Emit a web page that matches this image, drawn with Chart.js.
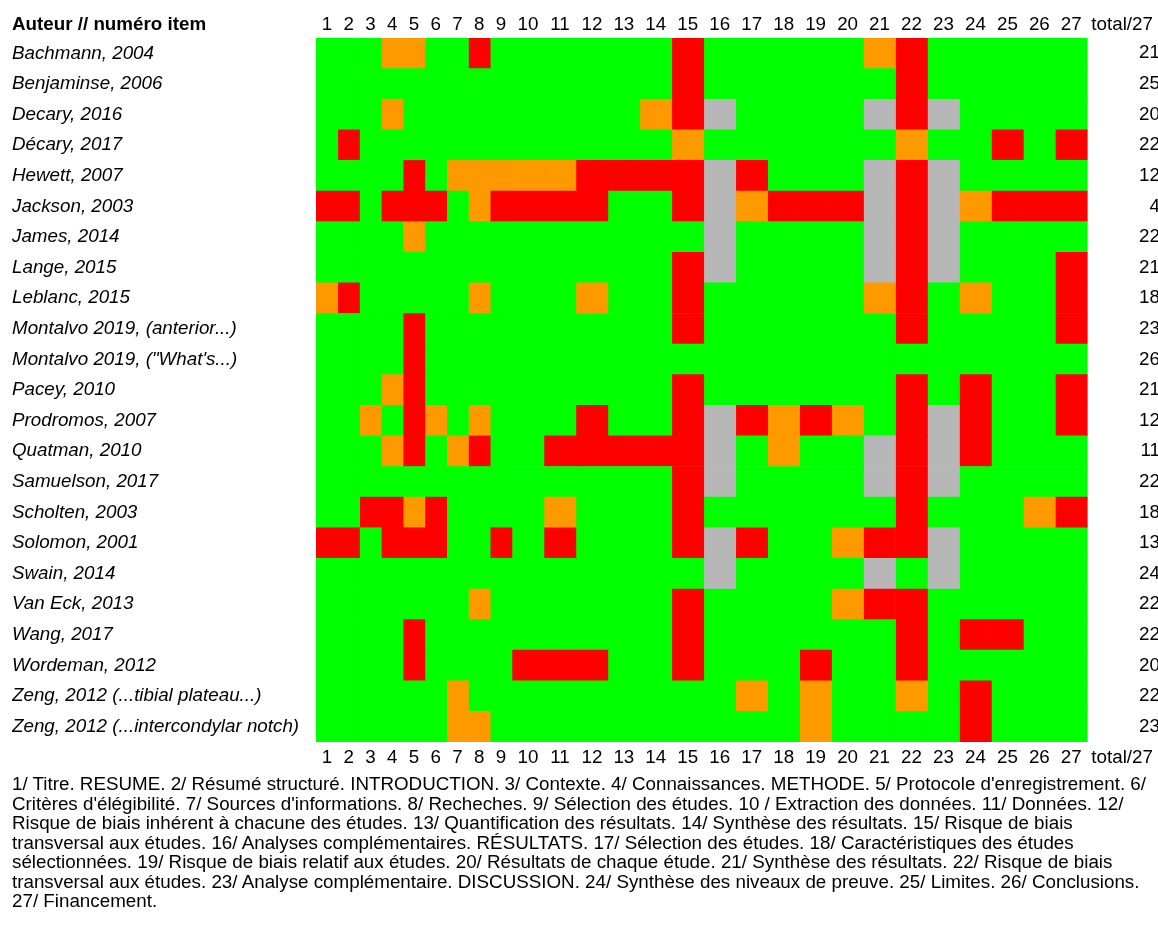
<!DOCTYPE html>
<html lang="fr">
<head>
<meta charset="utf-8">
<title>Grille d'évaluation par item</title>
<script src="https://cdn.jsdelivr.net/npm/chart.js@4.4.1/dist/chart.umd.min.js"></script>
<style>
  html, body { margin: 0; padding: 0; background: #fff; overflow: hidden; }
  #wrap { position: relative; width: 1158px; height: 925px; }
  #chart { position: absolute; left: 0; top: 0; }
  #legende {
    position: absolute; left: 12px; top: 774px;
    font-family: "Liberation Sans", Arial, sans-serif;
    font-size: 18.8px; line-height: 19.5px; color: #000; white-space: nowrap;
  }
</style>
</head>
<body>
<div id="wrap">
  <canvas id="chart" width="1158" height="775"></canvas>
  <div id="legende">
    1/ Titre. RESUME. 2/ Résumé structuré. INTRODUCTION. 3/ Contexte. 4/ Connaissances. METHODE. 5/ Protocole d'enregistrement. 6/<br>
    Critères d'élégibilité. 7/ Sources d'informations. 8/ Recheches. 9/ Sélection des études. 10 / Extraction des données. 11/ Données. 12/<br>
    Risque de biais inhérent à chacune des études. 13/ Quantification des résultats. 14/ Synthèse des résultats. 15/ Risque de biais<br>
    transversal aux études. 16/ Analyses complémentaires. RÉSULTATS. 17/ Sélection des études. 18/ Caractéristiques des études<br>
    sélectionnées. 19/ Risque de biais relatif aux études. 20/ Résultats de chaque étude. 21/ Synthèse des résultats. 22/ Risque de biais<br>
    transversal aux études. 23/ Analyse complémentaire. DISCUSSION. 24/ Synthèse des niveaux de preuve. 25/ Limites. 26/ Conclusions.<br>
    27/ Financement.
  </div>
</div>
<script>
// Etudes (lignes)
const authors = [
    "Bachmann, 2004",
    "Benjaminse, 2006",
    "Decary, 2016",
    "Décary, 2017",
    "Hewett, 2007",
    "Jackson, 2003",
    "James, 2014",
    "Lange, 2015",
    "Leblanc, 2015",
    "Montalvo 2019, (anterior...)",
    "Montalvo 2019, (\"What's...)",
    "Pacey, 2010",
    "Prodromos, 2007",
    "Quatman, 2010",
    "Samuelson, 2017",
    "Scholten, 2003",
    "Solomon, 2001",
    "Swain, 2014",
    "Van Eck, 2013",
    "Wang, 2017",
    "Wordeman, 2012",
    "Zeng, 2012 (...tibial plateau...)",
    "Zeng, 2012 (...intercondylar notch)"
];

// Items PRISMA (colonnes)
const items = [1, 2, 3, 4, 5, 6, 7, 8, 9, 10, 11, 12, 13, 14, 15, 16, 17, 18, 19, 20, 21, 22, 23, 24, 25, 26, 27];

// Score total de chaque étude
const totals = [21, 25, 20, 22, 12, 4, 22, 21, 18, 23, 26, 21, 12, 11, 22, 18, 13, 24, 22, 22, 20, 22, 23];

// Cotation par item : G = oui, O = partiel, R = non, N = non applicable
const scores = [
    "GGGOOGGRGGGGGGRGGGGGORGGGGG",
    "GGGGGGGGGGGGGGRGGGGGGRGGGGG",
    "GGGOGGGGGGGGGORNGGGGNRNGGGG",
    "GRGGGGGGGGGGGGOGGGGGGOGGRGR",
    "GGGGRGOOOOORRRRNRGGGNRNGGGG",
    "RRGRRRGORRRRGGRNORRRNRNORRR",
    "GGGGOGGGGGGGGGGNGGGGNRNGGGG",
    "GGGGGGGGGGGGGGRNGGGGNRNGGGR",
    "ORGGGGGOGGGOGGRGGGGGORGOGGR",
    "GGGGRGGGGGGGGGRGGGGGGRGGGGR",
    "GGGGRGGGGGGGGGGGGGGGGGGGGGG",
    "GGGORGGGGGGGGGRGGGGGGRGRGGR",
    "GGOGROGOGGGRGGRNROROGRNRGGR",
    "GGGORGORGGRRRRRNGOGGNRNRGGG",
    "GGGGGGGGGGGGGGRNGGGGNRNGGGG",
    "GGRRORGGGGOGGGRGGGGGGRGGGOR",
    "RRGRRRGGRGRGGGRNRGGORRNGGGG",
    "GGGGGGGGGGGGGGGNGGGGNGNGGGG",
    "GGGGGGGOGGGGGGRGGGGORRGGGGG",
    "GGGGRGGGGGGGGGRGGGGGGRGRRGG",
    "GGGGRGGGGRRRGGRGGGRGGRGGGGG",
    "GGGGGGOGGGGGGGGGOGOGGOGRGGG",
    "GGGGGGOOGGGGGGGGGGOGGGGRGGG"
];

const palette = { G: '#00ff00', O: '#ff9900', R: '#ff0000', N: '#b7b7b7' };
const statusText = { G: 'oui', O: 'partiel', R: 'non', N: 'non applicable' };

// largeur des colonnes comme dans le tableur (1 chiffre plus étroit)
const colWidths = items.map(n => n < 10 ? 21.8 : 32);
const totalColWidth = 69.8;

const edges = [0];
colWidths.forEach(w => edges.push(edges[edges.length - 1] + w));
const gridEnd = edges[edges.length - 1];
const xMax = gridEnd + totalColWidth;

const tickValues = items.map((n, i) => (edges[i] + edges[i + 1]) / 2).concat([gridEnd + totalColWidth / 2]);
const tickLabels = items.map(String).concat(['total/27']);

const FONT = '"Liberation Sans", Arial, sans-serif';
Chart.defaults.font.family = FONT;
Chart.defaults.font.size = 18.8;
Chart.defaults.color = '#000';

const datasets = items.map((item, c) => ({
    label: 'Item ' + item,
    data: authors.map(() => [edges[c], edges[c + 1]]),
    backgroundColor: scores.map(row => palette[row[c]]),
    borderWidth: 0,
    barPercentage: 1,
    categoryPercentage: 1,
    grouped: false
}));

// En-tête de gauche et colonne des totaux
const extraText = {
    id: 'extraText',
    afterDraw(chart) {
        const ctx = chart.ctx;
        const yScale = chart.scales.y;
        ctx.save();
        ctx.fillStyle = '#000';
        ctx.textBaseline = 'middle';
        ctx.textAlign = 'left';
        ctx.font = 'bold 18.8px ' + FONT;
        ctx.fillText('Auteur // numéro item', 12, 24.7);
        ctx.font = '18.8px ' + FONT;
        ctx.textAlign = 'right';
        totals.forEach((t, i) => {
            ctx.fillText(String(t), chart.chartArea.right + 3, yScale.getPixelForValue(i));
        });
        ctx.restore();
    }
};

function columnTicks(scale) {
    scale.ticks = tickValues.map(v => ({ value: v }));
}

const xTicks = {
    autoSkip: false,
    maxRotation: 0,
    callback: (value, index) => tickLabels[index]
};

new Chart(document.getElementById('chart'), {
    type: 'bar',
    data: { labels: authors, datasets: datasets },
    options: {
        indexAxis: 'y',
        responsive: false,
        animation: false,
        layout: { padding: { left: 12, right: 0, top: 0, bottom: 0 } },
        plugins: {
            legend: { display: false },
            tooltip: {
                callbacks: {
                    title: items => authors[items[0].dataIndex],
                    label: item => item.dataset.label + ' : ' + statusText[scores[item.dataIndex][item.datasetIndex]]
                }
            }
        },
        scales: {
            x: {
                type: 'linear',
                position: 'bottom',
                min: 0,
                max: xMax,
                grid: { display: false, drawTicks: false },
                border: { display: false },
                afterBuildTicks: columnTicks,
                afterFit: s => { s.height = 33; },
                ticks: Object.assign({ padding: 5 }, xTicks)
            },
            xTop: {
                type: 'linear',
                position: 'top',
                min: 0,
                max: xMax,
                grid: { display: false, drawTicks: false },
                border: { display: false },
                afterBuildTicks: columnTicks,
                afterFit: s => { s.height = 38; },
                ticks: Object.assign({ padding: 2 }, xTicks)
            },
            y: {
                type: 'category',
                grid: { display: false, drawTicks: false },
                border: { display: false },
                afterFit: s => { s.width = 304; },
                ticks: {
                    crossAlign: 'far',
                    padding: 0,
                    autoSkip: false,
                    font: { style: 'italic', size: 18.8 }
                }
            }
        }
    },
    plugins: [extraText]
});
</script>
</body>
</html>
